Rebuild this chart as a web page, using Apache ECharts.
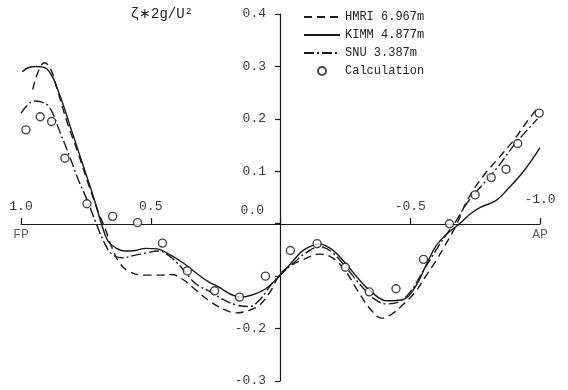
<!DOCTYPE html>
<html>
<head>
<meta charset="utf-8">
<script src="https://cdn.jsdelivr.net/npm/echarts@6/dist/echarts.min.js"></script>
<style>
  html, body { margin: 0; padding: 0; background: #fff; }
  #chart { width: 568px; height: 390px; }
</style>
</head>
<body>
<div id="chart"></div>
<script>
// x = position along hull (1.0 = FP, -1.0 = AP), y = wave height zeta*2g/U^2
const hmri = [
    [0.955, 0.256], [0.93, 0.295], [0.91, 0.307], [0.885, 0.294], [0.86, 0.255],
    [0.82, 0.19], [0.78, 0.135], [0.74, 0.075], [0.70, 0.02], [0.675, -0.01],
    [0.65, -0.045], [0.62, -0.075], [0.58, -0.092], [0.52, -0.098], [0.46, -0.098],
    [0.42, -0.097], [0.38, -0.105], [0.33, -0.125], [0.28, -0.145], [0.22, -0.163],
    [0.17, -0.17], [0.12, -0.165], [0.08, -0.155], [0.04, -0.13], [0.0, -0.095],
    [-0.04, -0.08], [-0.09, -0.068], [-0.15, -0.058], [-0.2, -0.065], [-0.25, -0.09],
    [-0.30, -0.13], [-0.35, -0.165], [-0.39, -0.18], [-0.43, -0.172], [-0.47, -0.155],
    [-0.52, -0.13], [-0.56, -0.1], [-0.60, -0.07], [-0.63, -0.045], [-0.68, 0.0],
    [-0.72, 0.045], [-0.78, 0.09], [-0.84, 0.125], [-0.90, 0.16], [-0.95, 0.195],
    [-0.99, 0.22]
];
const kimm = [
    [0.995, 0.29], [0.97, 0.298], [0.94, 0.30], [0.90, 0.295], [0.86, 0.258],
    [0.81, 0.185], [0.76, 0.11], [0.72, 0.05], [0.69, 0.0], [0.665, -0.033],
    [0.635, -0.046], [0.60, -0.052], [0.56, -0.051], [0.52, -0.047], [0.475, -0.048],
    [0.43, -0.058], [0.38, -0.073], [0.33, -0.092], [0.28, -0.11], [0.24, -0.12],
    [0.19, -0.135], [0.15, -0.14], [0.11, -0.136], [0.06, -0.125], [0.0, -0.098],
    [-0.05, -0.07], [-0.09, -0.05], [-0.15, -0.039], [-0.2, -0.05], [-0.26, -0.081],
    [-0.30, -0.105], [-0.35, -0.13], [-0.41, -0.147], [-0.47, -0.145], [-0.52, -0.12],
    [-0.56, -0.08], [-0.60, -0.042], [-0.64, -0.02], [-0.69, 0.0], [-0.73, 0.018],
    [-0.77, 0.031], [-0.83, 0.044], [-0.87, 0.063], [-0.94, 0.102], [-1.0, 0.145]
];
const snu = [
    [1.0, 0.211], [0.975, 0.226], [0.95, 0.234], [0.92, 0.232], [0.89, 0.222],
    [0.85, 0.175], [0.81, 0.125], [0.78, 0.085], [0.745, 0.045], [0.71, 0.0],
    [0.68, -0.035], [0.65, -0.058], [0.61, -0.065], [0.56, -0.06], [0.52, -0.056],
    [0.47, -0.052], [0.42, -0.065], [0.37, -0.09], [0.33, -0.113], [0.27, -0.13],
    [0.22, -0.145], [0.17, -0.155], [0.12, -0.158], [0.08, -0.145], [0.03, -0.112],
    [0.0, -0.097], [-0.05, -0.075], [-0.1, -0.055], [-0.15, -0.044], [-0.2, -0.055],
    [-0.26, -0.088], [-0.31, -0.118], [-0.36, -0.143], [-0.41, -0.153], [-0.46, -0.148],
    [-0.5, -0.13], [-0.55, -0.09], [-0.6, -0.05], [-0.64, -0.02], [-0.67, 0.0],
    [-0.72, 0.04], [-0.78, 0.075], [-0.84, 0.11], [-0.9, 0.15], [-0.95, 0.178],
    [-0.99, 0.2]
];
const calc = [
    [0.981, 0.179], [0.926, 0.204], [0.882, 0.195], [0.831, 0.125], [0.746, 0.038],
    [0.647, 0.014], [0.551, 0.002], [0.455, -0.037], [0.359, -0.090], [0.254, -0.128],
    [0.158, -0.140], [0.058, -0.100], [-0.038, -0.051], [-0.141, -0.038], [-0.25, -0.083],
    [-0.342, -0.130], [-0.445, -0.124], [-0.551, -0.068], [-0.651, 0.0], [-0.75, 0.055],
    [-0.812, 0.088], [-0.869, 0.104], [-0.914, 0.153], [-0.997, 0.211]
];
const seriesNames = ['HMRI 6.967m', 'KIMM 4.877m', 'SNU 3.387m', 'Calculation'];
const endLabels = [[1.0, 0, 'FP'], [-1.0, 0, 'AP']];
const hiddenYLabels = [-0.1];

const font = 'Liberation Mono';
const ink = '#1a1a1a';
const textInk = '#3a3a3a';

const chart = echarts.init(document.getElementById('chart'));

const lineSeries = (name, data, type) => ({
    name: name,
    type: 'line',
    data: data,
    smooth: 0.4,
    symbol: 'none',
    lineStyle: { color: ink, width: 1.4, type: type },
    itemStyle: { color: ink },
    z: 3
});

chart.setOption({
    animation: false,
    backgroundColor: '#fff',
    grid: { left: 21, right: 28, top: 14, bottom: 9, outerBoundsMode: 'none' },
    legend: {
        orient: 'vertical',
        left: 298,
        top: 6,
        itemWidth: 36,
        itemHeight: 8,
        itemGap: 6,
        data: seriesNames.map((n, i) => i < 3
            ? { name: n, itemStyle: { opacity: 0 } }
            : { name: n }),
        textStyle: { fontFamily: font, fontSize: 12, color: '#222' }
    },
    xAxis: {
        type: 'value',
        inverse: true,
        min: -1,
        max: 1,
        interval: 0.5,
        offset: -157,
        splitLine: { show: false },
        axisLine: { onZero: false, lineStyle: { color: ink, width: 1.2 } },
        axisTick: { inside: true, length: 6, lineStyle: { color: ink, width: 1.2 } },
        axisLabel: {
            inside: true,
            margin: 11,
            fontFamily: font,
            fontSize: 13,
            color: textInk,
            showMinLabel: true,
            showMaxLabel: true,
            formatter: v => {
                if (Math.abs(v) < 1e-9) return '';
                if (v <= -1) return '{e|' + v.toFixed(1) + '}';
                return v.toFixed(1);
            },
            rich: {
                e: { fontFamily: font, fontSize: 13, color: textInk, padding: [0, 0, 7, 0] }
            }
        }
    },
    yAxis: {
        type: 'value',
        min: -0.3,
        max: 0.4,
        interval: 0.1,
        offset: -259,
        name: 'ζ∗2g/U²',
        nameLocation: 'end',
        nameGap: 0,
        nameTextStyle: {
            fontFamily: font,
            fontSize: 14,
            color: '#222',
            align: 'right',
            verticalAlign: 'middle',
            padding: [0, 87, 0, 0]
        },
        splitLine: { show: false },
        axisLine: { onZero: false, lineStyle: { color: ink, width: 1.2 } },
        axisTick: { length: 5, lineStyle: { color: ink, width: 1.2 } },
        axisLabel: {
            margin: 14,
            fontFamily: font,
            fontSize: 13,
            color: textInk,
            formatter: v => {
                if (hiddenYLabels.some(h => Math.abs(h - v) < 1e-6)) return '';
                if (Math.abs(v) < 1e-9) return '{z|0.0}';
                return v.toFixed(1);
            },
            rich: {
                z: { fontFamily: font, fontSize: 13, color: textInk, padding: [0, 2, 26, 0] }
            }
        }
    },
    series: [
        lineSeries(seriesNames[0], hmri, [8, 5]),
        lineSeries(seriesNames[1], kimm, 'solid'),
        lineSeries(seriesNames[2], snu, [10, 3, 2, 3]),
        {
            name: seriesNames[3],
            type: 'scatter',
            data: calc,
            symbol: 'circle',
            symbolSize: 8,
            itemStyle: { color: '#fff', borderColor: ink, borderWidth: 1.4 },
            z: 4
        },
        {
            type: 'scatter',
            data: endLabels,
            symbolSize: 0,
            silent: true,
            label: {
                show: true,
                position: 'bottom',
                distance: 4,
                formatter: p => p.data[2],
                fontFamily: font,
                fontSize: 13,
                color: textInk
            }
        }
    ]
});
</script>
</body>
</html>
